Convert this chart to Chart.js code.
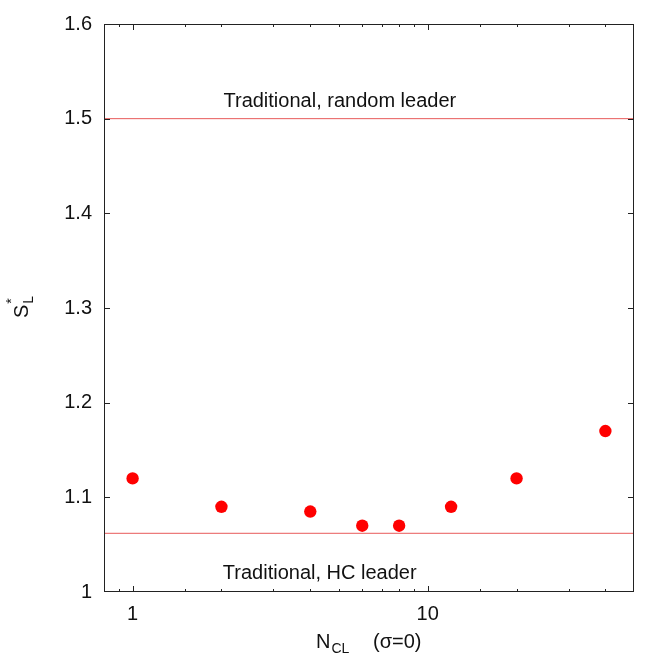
<!DOCTYPE html>
<html>
<head>
<meta charset="utf-8">
<script src="https://cdn.jsdelivr.net/npm/chart.js@4"></script>
<style>
  html, body { margin: 0; padding: 0; background: #fff; }
  canvas { display: block; }
</style>
</head>
<body>
<canvas id="c" width="669" height="654"></canvas>
<script>
// ---- data ----
const nCL = [1, 2, 4, 6, 8, 12, 20, 40];
const sL = [1.12, 1.09, 1.085, 1.07, 1.07, 1.09, 1.12, 1.17];
const xRange = [0.8, 50];
const yRange = [1, 1.6];
const yTickStep = 0.1;
const xTickLabels = [1, 10];
const refRandom = 1.5;
const refHC = 1.062;
const refRandomLabel = 'Traditional, random leader';
const refHCLabel = 'Traditional, HC leader';

const FONT = '"Liberation Sans", Arial, Helvetica, sans-serif';
const INK = '#111';

const decorPlugin = {
  id: 'decor',
  afterDraw(chart) {
    const { ctx, chartArea: a, scales: { x, y } } = chart;
    ctx.save();
    // frame
    ctx.strokeStyle = '#222';
    ctx.lineWidth = 1;
    ctx.strokeRect(Math.round(a.left) + 0.5, Math.round(a.top) + 0.5,
                   Math.round(a.right - a.left) - 1, Math.round(a.bottom - a.top) - 1);
    // y ticks (inward, both sides)
    ctx.beginPath();
    y.ticks.forEach(t => {
      const py = Math.round(y.getPixelForValue(t.value)) + 0.5;
      if (py <= a.top + 1 || py >= a.bottom - 1) return;
      ctx.moveTo(a.left, py); ctx.lineTo(a.left + 6, py);
      ctx.moveTo(a.right, py); ctx.lineTo(a.right - 6, py);
    });
    // x ticks (inward, top and bottom)
    x.ticks.forEach(t => {
      const v = t.value;
      const px = Math.round(x.getPixelForValue(v)) + 0.5;
      if (px <= a.left + 1 || px >= a.right - 1) return;
      const lg = Math.log10(v);
      const major = Math.abs(lg - Math.round(lg)) < 1e-9;
      const len = major ? 6 : 3;
      ctx.moveTo(px, a.bottom); ctx.lineTo(px, a.bottom - len);
      ctx.moveTo(px, a.top); ctx.lineTo(px, a.top + len);
    });
    ctx.stroke();

    const W = a.right - a.left;
    ctx.fillStyle = INK;
    // reference line labels
    ctx.font = '20px ' + FONT;
    ctx.textAlign = 'center';
    ctx.textBaseline = 'alphabetic';
    ctx.fillText(refRandomLabel, a.left + 0.445 * W, y.getPixelForValue(refRandom) - 12);
    ctx.fillText(refHCLabel, a.left + 0.407 * W, a.bottom - 13);

    // x title: N_CL   (σ=0)
    ctx.textAlign = 'left';
    const bx = a.left + 212, by = a.bottom + 56;
    ctx.font = '20px ' + FONT;
    ctx.fillText('N', bx, by);
    const nW = ctx.measureText('N').width;
    ctx.font = '14px ' + FONT;
    ctx.fillText('CL', bx + nW + 1, by + 5);
    ctx.font = '20px ' + FONT;
    ctx.fillText('(σ=0)', bx + 57, by);

    // y title: S*_L rotated
    ctx.save();
    ctx.translate(a.left - 76, 318);
    ctx.rotate(-Math.PI / 2);
    ctx.font = '20px ' + FONT;
    ctx.fillText('S', 0, 0);
    const sW = ctx.measureText('S').width;
    ctx.font = '14px ' + FONT;
    ctx.fillText('L', sW + 1, 5);
    ctx.fillText('*', sW + 1, -12);
    ctx.restore();
    ctx.restore();
  }
};

const lineStyle = { borderColor: '#e85a5a', borderWidth: 1, pointRadius: 0, showLine: true, fill: false };

new Chart(document.getElementById('c'), {
  type: 'scatter',
  data: {
    datasets: [
      { ...lineStyle, type: 'line', data: xRange.map(v => ({ x: v, y: refRandom })) },
      { ...lineStyle, type: 'line', data: xRange.map(v => ({ x: v, y: refHC })) },
      {
        data: nCL.map((v, i) => ({ x: v, y: sL[i] })),
        backgroundColor: '#ff0000', borderColor: '#ff0000', borderWidth: 0,
        pointRadius: 6.2, pointHoverRadius: 6.2
      }
    ]
  },
  options: {
    responsive: false,
    animation: false,
    devicePixelRatio: 1,
    layout: { padding: { top: 23, right: 35, left: 0, bottom: 0 } },
    plugins: { legend: { display: false }, tooltip: { enabled: false } },
    scales: {
      x: {
        type: 'logarithmic', min: xRange[0], max: xRange[1],
        grid: { display: false, drawTicks: false },
        border: { display: false },
        afterFit: s => { s.height = 62; },
        ticks: {
          autoSkip: false, maxRotation: 0, padding: 10, color: INK,
          font: { family: FONT, size: 20 },
          callback: v => xTickLabels.includes(v) ? String(v) : ''
        }
      },
      y: {
        type: 'linear', min: yRange[0], max: yRange[1],
        grid: { display: false, drawTicks: false },
        border: { display: false },
        afterFit: s => { s.width = 104; },
        ticks: {
          stepSize: yTickStep, padding: 12, color: INK,
          font: { family: FONT, size: 20 },
          callback: v => String(Number(v.toFixed(1)))
        }
      }
    }
  },
  plugins: [decorPlugin]
});
</script>
</body>
</html>
